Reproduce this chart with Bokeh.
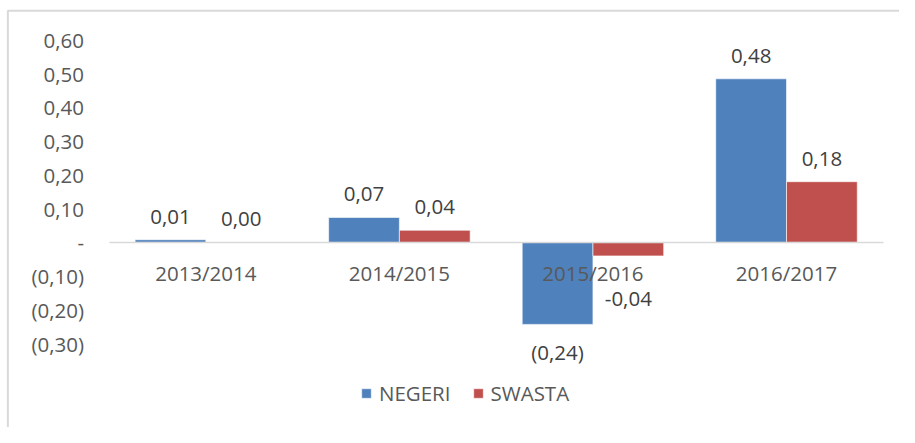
from bokeh.plotting import figure
from bokeh.models import (ColumnDataSource, Range1d, FixedTicker, BoxAnnotation,
                          CustomJSTickFormatter, Legend, LegendItem)
from bokeh.core.properties import value
from bokeh.embed import file_html
from bokeh.resources import INLINE

# ---- data ----
years = ["2013/2014", "2014/2015", "2015/2016", "2016/2017"]
negeri = [0.008, 0.074, -0.243, 0.485]
swasta = [0.0, 0.036, -0.04, 0.18]
negeri_labels = ["0,01", "0,07", "(0,24)", "0,48"]
swasta_labels = ["0,00", "0,04", "-0,04", "0,18"]
y_ticks = [-0.3, -0.2, -0.1, 0.0, 0.1, 0.2, 0.3, 0.4, 0.5, 0.6]

# ---- style ----
BLUE = "#4F81BD"
RED = "#C0504D"
FONT = "Open Sans"
AXIS_TXT = "#595959"
LBL_TXT = "#404040"
FS = "20.5px"
W, H = 899, 427

xpos = list(range(len(years)))
BW = 0.3655          # bar width in category units
OFF = 0.1828         # dodge offset in category units

neg_off = [-23 if v >= 0 else 28 for v in negeri]
swa_off = [-23 if v >= 0 else 43 for v in swasta]

src = ColumnDataSource(dict(x=xpos, xn=[i - OFF for i in xpos], xs=[i + OFF for i in xpos],
                            negeri=negeri, swasta=swasta,
                            nl=negeri_labels, sl=swasta_labels,
                            noff=neg_off, soff=swa_off))

p = figure(x_range=Range1d(-1.0609, 3.5838), y_range=Range1d(-0.5486, 0.7171),
           width=W, height=H, output_backend="svg", toolbar_location=None,
           min_border=0, min_border_left=0, min_border_right=0,
           min_border_top=0, min_border_bottom=0)
p.outline_line_color = None
p.xgrid.visible = False
p.ygrid.visible = False

# chart-area border (top and left edges visible)
p.add_layout(BoxAnnotation(left=-1.0228, top=0.687, right=5, bottom=-2,
                           fill_alpha=0, line_color="#d9d9d9", line_alpha=1.0,
                           line_width=2))

r1 = p.vbar(x="xn", top="negeri", bottom=0, width=BW, source=src,
            fill_color=BLUE, line_color="white", line_width=0.6)
r2 = p.vbar(x="xs", top="swasta", bottom=0, width=BW, source=src,
            fill_color=RED, line_color="white", line_width=0.6)

p.text(x="xn", y="negeri", text="nl", y_offset="noff", source=src,
       text_align="center", text_baseline="middle",
       text_font=value(FONT), text_font_size=FS, text_color=LBL_TXT)
p.text(x="xs", y="swasta", text="sl", y_offset="soff", source=src,
       text_align="center", text_baseline="middle",
       text_font=value(FONT), text_font_size=FS, text_color=LBL_TXT)

# x axis along zero
xa = p.xaxis[0]
xa.fixed_location = 0
xa.bounds = (-0.5, len(years) - 0.5)
xa.ticker = FixedTicker(ticks=xpos)
xa.formatter = CustomJSTickFormatter(args=dict(labels=years),
                                     code="return labels[Math.round(tick)];")
xa.axis_line_color = "#d9d9d9"
xa.axis_line_width = 1.5
xa.major_tick_line_color = None
xa.minor_tick_line_color = None
xa.major_tick_out = 0
xa.major_tick_in = 0
xa.minor_tick_out = 0
xa.major_label_standoff = 17
xa.major_label_text_font = FONT
xa.major_label_text_font_size = FS
xa.major_label_text_color = AXIS_TXT

# y axis at left edge of the category area
ya = p.yaxis[0]
ya.fixed_location = -0.5
ya.ticker = FixedTicker(ticks=y_ticks)
ya.formatter = CustomJSTickFormatter(code="""
    if (Math.abs(tick) < 1e-9) return "-";
    const s = Math.abs(tick).toFixed(2).replace('.', ',');
    return tick < 0 ? "(" + s + ")" : s;
""")
ya.axis_line_color = None
ya.major_tick_line_color = None
ya.minor_tick_line_color = None
ya.major_tick_out = 0
ya.major_tick_in = 0
ya.minor_tick_out = 0
ya.major_label_standoff = 25
ya.major_label_text_font = FONT
ya.major_label_text_font_size = FS
ya.major_label_text_color = AXIS_TXT

legend = Legend(items=[LegendItem(label="NEGERI", renderers=[r1]),
                       LegendItem(label="SWASTA", renderers=[r2])],
                orientation="horizontal", location=(360, 20),
                glyph_width=12, glyph_height=12, label_standoff=7, spacing=21,
                padding=0, margin=0, border_line_color=None, background_fill_alpha=0,
                label_text_font=FONT, label_text_font_size=FS, label_text_color=AXIS_TXT)
p.add_layout(legend, "center")

open("out.html", "w").write(file_html(p, INLINE))
